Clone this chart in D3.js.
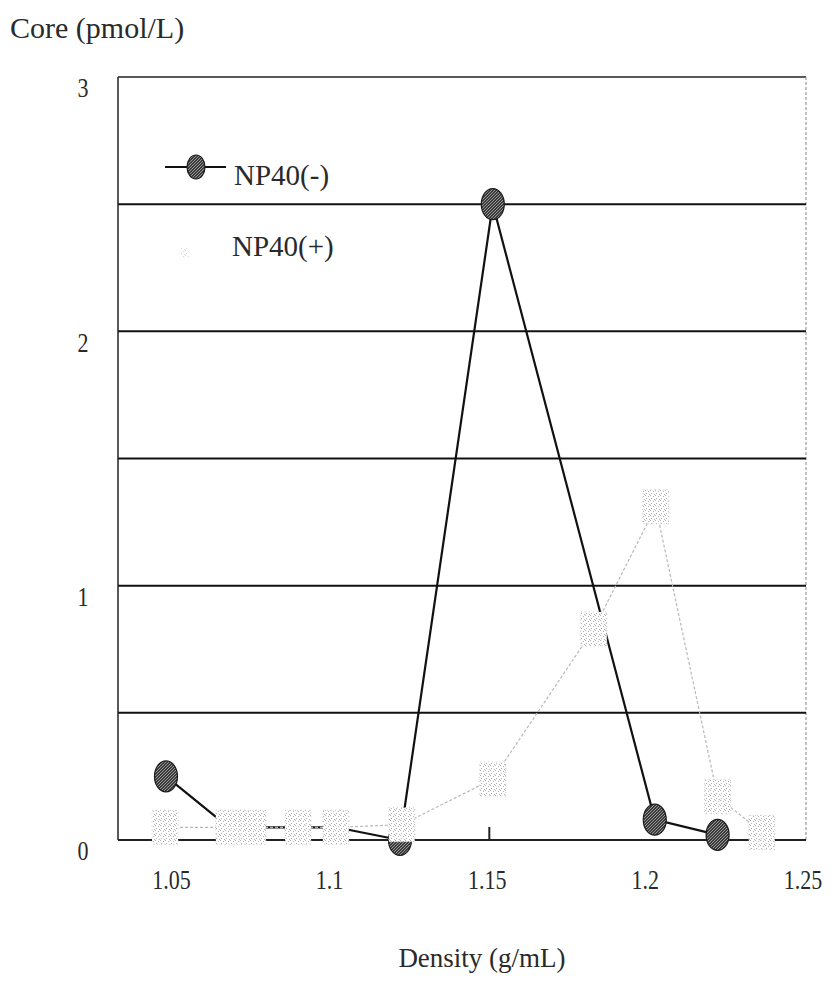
<!DOCTYPE html>
<html>
<head>
<meta charset="utf-8">
<script src="https://cdn.jsdelivr.net/npm/d3@7"></script>
<style>
  html, body { margin: 0; padding: 0; background: #fff; }
  svg text { font-family: "Liberation Serif", "DejaVu Serif", serif; fill: #2a2a2a; }
</style>
</head>
<body>
<svg id="chart" width="833" height="985"></svg>
<script>
// density fractions (g/mL) and core antigen (pmol/L)
const minusDensity = [1.0476, 1.0675, 1.0751, 1.0894, 1.1014, 1.1217, 1.1511, 1.2024, 1.2223];
const minusCore    = [0.25,   0.05,   0.05,   0.05,   0.05,   0.0,    2.5,    0.08,   0.02];

const plusDensity = [1.0473, 1.0675, 1.0751, 1.0894, 1.1014, 1.1223, 1.1511, 1.1831, 1.2027, 1.2223, 1.2363];
const plusCore    = [0.05,   0.05,   0.05,   0.05,   0.05,   0.06,   0.24,   0.83,   1.31,   0.17,   0.03];

const densityTicks = [1.05, 1.1, 1.15, 1.2, 1.25];
const coreTicks = [0, 1, 2, 3];
const gridLines = [0.5, 1, 1.5, 2, 2.5];

const svg = d3.select('#chart');
const plotLeft = 118, plotRight = 806, plotTop = 77, plotBottom = 840;

const x = d3.scaleLinear().domain([1.0324, 1.2503]).range([plotLeft, plotRight]);
const y = d3.scaleLinear().domain([0, 3]).range([plotBottom, plotTop]);

// speckled fills, to imitate the scanned grey tones
const defs = svg.append('defs');
const light = defs.append('pattern')
    .attr('id', 'lightSpeckle')
    .attr('width', 5).attr('height', 5)
    .attr('patternUnits', 'userSpaceOnUse');
light.append('rect').attr('width', 5).attr('height', 5).attr('fill', '#fff');
[[0, 0], [3, 1], [1, 3], [4, 4]].forEach(p => {
    light.append('rect').attr('x', p[0]).attr('y', p[1]).attr('width', 1).attr('height', 1).attr('fill', '#b0b0b0');
});
const dark = defs.append('pattern')
    .attr('id', 'darkSpeckle')
    .attr('width', 3).attr('height', 3)
    .attr('patternUnits', 'userSpaceOnUse');
dark.append('rect').attr('width', 3).attr('height', 3).attr('fill', '#3a3a3a');
[[0, 0], [2, 1], [1, 2]].forEach(p => {
    dark.append('rect').attr('x', p[0]).attr('y', p[1]).attr('width', 1).attr('height', 1).attr('fill', '#999');
});

// frame
svg.append('line')
    .attr('x1', plotLeft).attr('x2', plotRight).attr('y1', plotTop).attr('y2', plotTop)
    .attr('stroke', '#222').attr('stroke-width', 1.5);
svg.append('line')
    .attr('x1', plotRight).attr('x2', plotRight).attr('y1', plotTop).attr('y2', plotBottom)
    .attr('stroke', '#999').attr('stroke-width', 1.2).attr('stroke-dasharray', '3,2');

// horizontal grid
svg.append('g').selectAll('line')
    .data(gridLines)
    .join('line')
    .attr('x1', plotLeft).attr('x2', plotRight)
    .attr('y1', d => y(d)).attr('y2', d => y(d))
    .attr('stroke', '#111').attr('stroke-width', 2);

// axes
svg.append('line')
    .attr('x1', plotLeft).attr('x2', plotLeft).attr('y1', plotTop).attr('y2', plotBottom)
    .attr('stroke', '#222').attr('stroke-width', 1.5);
svg.append('line')
    .attr('x1', plotLeft).attr('x2', plotRight).attr('y1', plotBottom).attr('y2', plotBottom)
    .attr('stroke', '#222').attr('stroke-width', 2);
svg.append('line')
    .attr('x1', x(1.15)).attr('x2', x(1.15)).attr('y1', plotBottom - 13).attr('y2', plotBottom)
    .attr('stroke', '#222').attr('stroke-width', 2);

// tick labels (the scan is stretched vertically, so the digits are too)
svg.append('g').selectAll('text')
    .data(coreTicks)
    .join('text')
    .attr('transform', d => `translate(83,${y(d) + 11}) scale(1,1.25)`)
    .attr('text-anchor', 'middle')
    .attr('dominant-baseline', 'central')
    .attr('font-size', 22)
    .text(d => d);

svg.append('g').selectAll('text')
    .data(densityTicks)
    .join('text')
    .attr('transform', d => `translate(${x(d) - 2},880) scale(1,1.25)`)
    .attr('text-anchor', 'middle')
    .attr('dominant-baseline', 'central')
    .attr('font-size', 22)
    .text(d => d);

// axis titles
svg.append('text')
    .attr('x', 10).attr('y', 38)
    .attr('font-size', 30)
    .text('Core (pmol/L)');
svg.append('text')
    .attr('x', 482).attr('y', 967)
    .attr('text-anchor', 'middle')
    .attr('font-size', 27)
    .text('Density (g/mL)');

// NP40(-)
const minusPts = minusDensity.map((d, i) => [d, minusCore[i]]);
const plusPts = plusDensity.map((d, i) => [d, plusCore[i]]);
const line = d3.line().x(d => x(d[0])).y(d => y(d[1]));

svg.append('path')
    .datum(minusPts)
    .attr('d', line)
    .attr('fill', 'none')
    .attr('stroke', '#111')
    .attr('stroke-width', 2.2);
svg.append('g').selectAll('ellipse')
    .data(minusPts)
    .join('ellipse')
    .attr('cx', d => x(d[0])).attr('cy', d => y(d[1]))
    .attr('rx', 11.5).attr('ry', 15.5)
    .attr('fill', 'url(#darkSpeckle)')
    .attr('stroke', '#1a1a1a').attr('stroke-width', 1.2);

// NP40(+) — faint grey in the scan, drawn on top
svg.append('path')
    .datum(plusPts)
    .attr('d', line)
    .attr('fill', 'none')
    .attr('stroke', '#b8b8b8')
    .attr('stroke-width', 1.2)
    .attr('stroke-dasharray', '3,2');
svg.append('g').selectAll('rect')
    .data(plusPts)
    .join('rect')
    .attr('x', d => x(d[0]) - 13).attr('y', d => y(d[1]) - 17)
    .attr('width', 26).attr('height', 34)
    .attr('fill', 'url(#lightSpeckle)')
    .attr('stroke', '#c8c8c8').attr('stroke-width', 1)
    .attr('stroke-dasharray', '1,3');

// legend
const legend = svg.append('g');
legend.append('line')
    .attr('x1', 165).attr('x2', 226).attr('y1', 167).attr('y2', 167)
    .attr('stroke', '#111').attr('stroke-width', 2);
legend.append('ellipse')
    .attr('cx', 196).attr('cy', 167).attr('rx', 9).attr('ry', 12)
    .attr('fill', 'url(#darkSpeckle)')
    .attr('stroke', '#1a1a1a').attr('stroke-width', 1.2);
legend.append('text')
    .attr('x', 234).attr('y', 185)
    .attr('font-size', 29)
    .text('NP40(-)');
legend.append('rect')
    .attr('x', 181).attr('y', 247).attr('width', 8).attr('height', 10)
    .attr('fill', 'url(#lightSpeckle)')
    .attr('opacity', 0.5);
legend.append('text')
    .attr('x', 232).attr('y', 256)
    .attr('font-size', 29)
    .text('NP40(+)');
</script>
</body>
</html>
